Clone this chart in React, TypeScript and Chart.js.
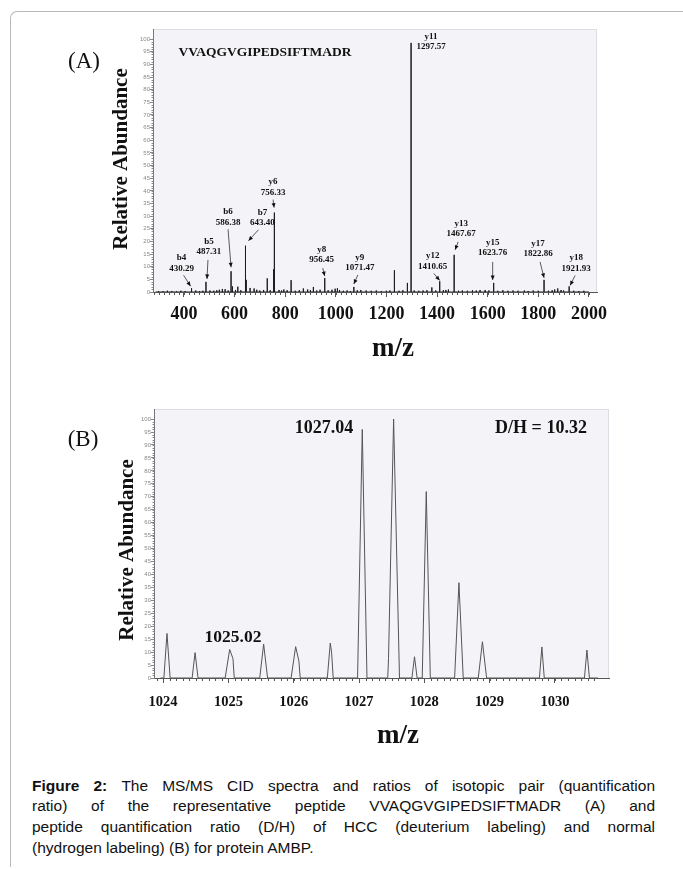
import { useEffect, useRef } from "react";
import { Chart, registerables } from "chart.js";

Chart.register(...registerables);

const SERIF = '"Liberation Serif", "Times New Roman", serif';
const SANS = '"Liberation Sans", Arial, sans-serif';

// ---------- Panel A data (MS/MS stick spectrum) ----------
const ION_NAMES = ["b4", "b5", "b6", "b7", "y6", "y8", "y9", "y11", "y12", "y13", "y15", "y17", "y18"];
const ION_LABELS = ["430.29", "487.31", "586.38", "643.40", "756.33", "956.45", "1071.47", "1297.57", "1410.65", "1467.67", "1623.76", "1822.86", "1921.93"];
const ION_MZ = [430.29, 487.31, 586.38, 643.4, 756.33, 956.45, 1071.47, 1297.57, 1410.65, 1467.67, 1623.76, 1822.86, 1921.93];
const ION_INT = [1.5, 4, 8.2, 18.3, 31.4, 5.5, 2, 98.5, 4.2, 14.7, 3.6, 4.8, 2.2];

const OTHER_MZ = [
  646.4, 754.8, 758.3, 729.4, 823.6, 592, 613, 661.5, 677.4, 563, 540, 552, 795, 808, 872, 889, 911.6,
  997.5, 1006.5, 1015, 1099, 1120, 1231.7, 1283, 1379.5, 1445, 1570, 1877, 1890,
  300, 318, 335, 352, 371, 388, 405, 447, 462, 475, 503, 518, 530, 575, 604, 625, 688, 700, 715, 741,
  776, 786, 840, 856, 900, 925, 938, 970, 985, 1030, 1045, 1058, 1085, 1140, 1160, 1180, 1200, 1214,
  1250, 1265, 1310, 1328, 1345, 1360, 1395, 1425, 1435, 1485, 1500, 1520, 1540, 1555, 1590, 1605, 1640,
  1660, 1680, 1700, 1720, 1745, 1760, 1780, 1800, 1840, 1855, 1865, 1900, 1940, 1960, 1980,
];
const OTHER_INT = [
  4.8, 9.0, 6.8, 5.4, 4.7, 2.2, 2.1, 1.6, 1.4, 1.1, 0.9, 1.2, 1.0, 0.7, 1.4, 1.0, 2.0,
  1.3, 1.5, 0.8, 0.8, 0.6, 8.6, 3.6, 1.8, 1.0, 0.8, 1.4, 0.8,
  0.4, 0.3, 0.5, 0.4, 0.3, 0.5, 0.4, 0.6, 0.4, 0.5, 0.6, 0.5, 0.7, 0.6, 0.8, 0.7, 0.9, 0.6, 0.8, 0.7,
  0.8, 0.6, 0.5, 0.7, 0.8, 0.6, 0.9, 0.7, 0.9, 0.5, 0.6, 0.4, 0.7, 0.5, 0.6, 0.4, 0.5, 0.6,
  0.5, 0.7, 0.6, 0.5, 0.6, 0.7, 0.6, 0.7, 0.8, 0.5, 0.6, 0.5, 0.7, 0.6, 0.8, 0.6, 0.5,
  0.7, 0.5, 0.6, 0.5, 0.6, 0.4, 0.6, 0.5, 0.5, 0.7, 1.0, 0.6, 0.5, 0.4, 0.5,
];
const X_TICKS_A = [400, 600, 800, 1000, 1200, 1400, 1600, 1800, 2000];
const Y_TICKS = [0, 5, 10, 15, 20, 25, 30, 35, 40, 45, 50, 55, 60, 65, 70, 75, 80, 85, 90, 95, 100];
const SEQUENCE = "VVAQGVGIPEDSIFTMADR";

// label layout (pixel offsets relative to the peak top): text line-2 centre, arrow start, arrow tip
const ION_LABEL_LAYOUT = [
  [-10, -20, -8, -13, -1, -2],
  [3, -30, 2, -22, 1, -3],
  [-3, -49, -3, -42, 0, -4],
  [17, -23, 13, -16, 3, -5],
  [-1, -20, -1, -13, 0, -5],
  [-3, -18, -2, -10, 0, -2],
  [6, -19, 4, -12, 0, -3],
  [20, 4, 0, 0, 0, 0],
  [-7, -15, -6, -8, 0, -1],
  [7, -21, 4, -13, 1, -5],
  [-1, -30, -1, -21, -1, -3],
  [-6, -26, -4, -18, 0, -2],
  [7, -18, 6, -11, 1, -1],
];

// ---------- Panel B data (isotope profile) ----------
const B_MZ = [1024.06, 1024.49, 1025.02, 1025.54, 1026.03, 1026.56, 1027.05, 1027.53, 1027.85, 1028.03, 1028.53, 1028.89, 1029.8, 1030.49];
const B_INT = [17.2, 9.8, 11, 13.1, 12.1, 13.5, 96, 100, 8.2, 72, 36.8, 14, 12, 10.8];
const B_HALFWIDTH = [0.048, 0.045, 0.07, 0.06, 0.07, 0.045, 0.072, 0.09, 0.04, 0.062, 0.066, 0.064, 0.037, 0.038];
const B_SHOULDER_DX = [0, 0, 0.05, 0, 0.05, 0.02, 0, -0.078, 0, 0, 0, 0, 0, 0];
const B_SHOULDER_INT = [0, 0, 7.5, 0, 6.5, 10, 0, 7.6, 0, 0, 0, 0, 0, 0];
const X_TICKS_B = [1024, 1025, 1026, 1027, 1028, 1029, 1030];
const B_LABEL_MAIN = "1027.04";
const B_LABEL_LIGHT = "1025.02";
const B_RATIO = "D/H = 10.32";

const CAPTION_LINES = [
  "The MS/MS CID spectra and ratios of isotopic pair (quantification",
  "ratio) of the representative peptide VVAQGVGIPEDSIFTMADR (A) and",
  "peptide quantification ratio (D/H) of HCC (deuterium labeling) and normal",
  "(hydrogen labeling) (B) for protein AMBP.",
];

const XA_MIN = 278, XA_MAX = 2032, XA_END = 2000;
const XB_MIN = 1023.861, XB_MAX = 1030.828, XB_END = 1030.66;

function stickData() {
  const mz = [...ION_MZ, ...OTHER_MZ];
  const it = [...ION_INT, ...OTHER_INT];
  const idx = mz.map((_, i) => i).sort((p, q) => mz[p] - mz[q]);
  const pts: { x: number; y: number }[] = [{ x: XA_MIN + 10, y: 0 }];
  idx.forEach((i) => {
    pts.push({ x: mz[i], y: 0 }, { x: mz[i], y: it[i] }, { x: mz[i], y: 0 });
  });
  pts.push({ x: XA_END, y: 0 });
  return pts;
}

function profileData() {
  const pts: { x: number; y: number }[] = [{ x: XB_MIN + 0.1, y: 0 }];
  B_MZ.forEach((c, i) => {
    const hw = B_HALFWIDTH[i];
    pts.push({ x: c - hw, y: 0 });
    if (B_SHOULDER_DX[i] < 0) pts.push({ x: c + B_SHOULDER_DX[i], y: B_SHOULDER_INT[i] });
    pts.push({ x: c, y: B_INT[i] });
    if (B_SHOULDER_DX[i] > 0) pts.push({ x: c + B_SHOULDER_DX[i], y: B_SHOULDER_INT[i] });
    pts.push({ x: c + hw, y: 0 });
  });
  pts.push({ x: XB_END, y: 0 });
  return pts;
}

function drawArrow(ctx: CanvasRenderingContext2D, x1: number, y1: number, x2: number, y2: number) {
  ctx.beginPath();
  ctx.moveTo(x1, y1);
  ctx.lineTo(x2, y2);
  ctx.stroke();
  const ang = Math.atan2(y2 - y1, x2 - x1);
  const L = 4.5, W = 2;
  ctx.beginPath();
  ctx.moveTo(x2, y2);
  ctx.lineTo(x2 - L * Math.cos(ang) + W * Math.sin(ang), y2 - L * Math.sin(ang) - W * Math.cos(ang));
  ctx.lineTo(x2 - L * Math.cos(ang) - W * Math.sin(ang), y2 - L * Math.sin(ang) + W * Math.cos(ang));
  ctx.closePath();
  ctx.fill();
}

function bgPlugin(id: string) {
  return {
    id,
    beforeDraw(chart: any) {
      const { ctx, chartArea: a } = chart;
      ctx.save();
      ctx.fillStyle = "#f4f3f7";
      ctx.fillRect(a.left, a.top, a.right - a.left, a.bottom - a.top);
      ctx.strokeStyle = "#dddce2";
      ctx.lineWidth = 1;
      ctx.strokeRect(a.left + 0.5, a.top + 0.5, a.right - a.left - 1, a.bottom - a.top);
      ctx.restore();
    },
  };
}

function minorTicks(chart: any, xStep: number, xFrom: number, xTo: number, yStep: number) {
  const { ctx, chartArea: a, scales } = chart;
  ctx.save();
  ctx.strokeStyle = "#555";
  ctx.lineWidth = 1;
  ctx.beginPath();
  for (let v = xFrom; v <= xTo + 1e-9; v += xStep) {
    const px = Math.round(scales.x.getPixelForValue(v)) + 0.5;
    ctx.moveTo(px, a.bottom);
    ctx.lineTo(px, a.bottom + 3);
  }
  ctx.stroke();
  ctx.strokeStyle = "#888";
  ctx.beginPath();
  for (let v = 0; v <= 100; v += yStep) {
    const py = Math.round(scales.y.getPixelForValue(v)) + 0.5;
    ctx.moveTo(a.left, py);
    ctx.lineTo(a.left - 1.5, py);
  }
  ctx.stroke();
  ctx.restore();
}

function rotatedText(ctx: CanvasRenderingContext2D, text: string, x: number, y: number) {
  ctx.save();
  ctx.translate(x, y);
  ctx.rotate(-Math.PI / 2);
  ctx.fillText(text, 0, 0);
  ctx.restore();
}

const panelAText = {
  id: "panelAText",
  afterDraw(chart: any) {
    const { ctx, scales } = chart;
    minorTicks(chart, 20, 280, 2000, 1);
    ctx.save();
    ctx.fillStyle = "#111";
    ctx.textAlign = "center";
    ctx.textBaseline = "middle";
    ctx.font = `23px ${SERIF}`;
    ctx.fillText("(A)", 84, 62);
    ctx.font = `bold 13.5px ${SERIF}`;
    ctx.fillText(SEQUENCE, 265, 53);
    ctx.font = `bold 21px ${SERIF}`;
    rotatedText(ctx, "Relative Abundance", 122, 159);
    ctx.font = `bold 27px ${SERIF}`;
    ctx.fillText("m/z", 393, 349);
    // ion annotations
    ctx.font = `bold 9px ${SERIF}`;
    ctx.strokeStyle = "#333";
    ctx.lineWidth = 0.8;
    ION_MZ.forEach((mz, i) => {
      const px = scales.x.getPixelForValue(mz);
      const py = scales.y.getPixelForValue(ION_INT[i]);
      const [tx, ty, ax, ay, bx, by] = ION_LABEL_LAYOUT[i];
      ctx.fillStyle = "#111";
      ctx.fillText(ION_NAMES[i], px + tx, py + ty - 10.5);
      ctx.fillText(ION_LABELS[i], px + tx, py + ty);
      if (ax !== 0 || ay !== 0 || bx !== 0 || by !== 0) {
        drawArrow(ctx, px + ax, py + ay, px + bx, py + by);
      }
    });
    ctx.restore();
  },
};

const panelBText = {
  id: "panelBText",
  afterDraw(chart: any) {
    const { ctx } = chart;
    minorTicks(chart, 0.1, 1023.9, 1030.6, 1);
    ctx.save();
    ctx.translate(0, -370);
    ctx.fillStyle = "#111";
    ctx.textAlign = "center";
    ctx.textBaseline = "middle";
    ctx.font = `23px ${SERIF}`;
    ctx.fillText("(B)", 83, 440);
    ctx.font = `bold 21px ${SERIF}`;
    rotatedText(ctx, "Relative Abundance", 128, 550);
    ctx.font = `bold 18px ${SERIF}`;
    ctx.fillText(B_LABEL_MAIN, 324, 428);
    ctx.fillText(B_RATIO, 541, 428);
    ctx.font = `bold 17.5px ${SERIF}`;
    ctx.fillText(B_LABEL_LIGHT, 233, 637);
    ctx.font = `bold 27px ${SERIF}`;
    ctx.fillText("m/z", 398, 736);
    ctx.restore();
  },
};

function yScale(max: number, width: number) {
  return {
    type: "linear" as const,
    min: 0,
    max,
    afterBuildTicks: (s: any) => {
      s.ticks = Y_TICKS.map((v) => ({ value: v }));
    },
    afterFit: (s: any) => {
      s.width = width;
    },
    grid: { drawOnChartArea: false, tickLength: 3, color: "#888" },
    border: { color: "#777", width: 1 },
    ticks: { font: { family: SANS, size: 6 }, color: "#888", padding: 0, autoSkip: false, callback: (v: any) => String(v) },
  };
}

function configA(): any {
  return {
    type: "line",
    data: {
      datasets: [
        { data: stickData(), borderColor: "#1c1c1c", borderWidth: 1, pointRadius: 0, tension: 0, fill: false },
      ],
    },
    options: {
      animation: false,
      responsive: false,
      maintainAspectRatio: false,
      layout: { padding: { left: 100, right: 86, top: 29, bottom: 0 } },
      plugins: { legend: { display: false }, tooltip: { enabled: false } },
      scales: {
        x: {
          type: "linear",
          min: XA_MIN,
          max: XA_MAX,
          afterBuildTicks: (s: any) => {
            s.ticks = X_TICKS_A.map((v) => ({ value: v }));
          },
          afterFit: (s: any) => {
            s.height = 78;
          },
          grid: { drawOnChartArea: false, tickLength: 5, color: "#555" },
          border: { color: "#555", width: 1 },
          ticks: { font: { family: SERIF, size: 18, weight: "bold" }, color: "#111", padding: 7, maxRotation: 0, autoSkip: false, callback: (v: any) => String(v) },
        },
        y: yScale(104, 53),
      },
    },
    plugins: [bgPlugin("bgA"), panelAText],
  };
}

function configB(): any {
  return {
    type: "line",
    data: {
      datasets: [
        { data: profileData(), borderColor: "#555", borderWidth: 1, pointRadius: 0, tension: 0, fill: false },
      ],
    },
    options: {
      animation: false,
      responsive: false,
      maintainAspectRatio: false,
      layout: { padding: { left: 100, right: 74, top: 39, bottom: 0 } },
      plugins: { legend: { display: false }, tooltip: { enabled: false } },
      scales: {
        x: {
          type: "linear",
          min: XB_MIN,
          max: XB_MAX,
          afterBuildTicks: (s: any) => {
            s.ticks = X_TICKS_B.map((v) => ({ value: v }));
          },
          afterFit: (s: any) => {
            s.height = 92;
          },
          grid: { drawOnChartArea: false, tickLength: 5, color: "#555" },
          border: { color: "#555", width: 1 },
          ticks: { font: { family: SERIF, size: 14.5, weight: "bold" }, color: "#111", padding: 11, maxRotation: 0, autoSkip: false, callback: (v: any) => String(v) },
        },
        y: yScale(103.9, 54),
      },
    },
    plugins: [bgPlugin("bgB"), panelBText],
  };
}

export default function App() {
  const refA = useRef<HTMLCanvasElement>(null);
  const refB = useRef<HTMLCanvasElement>(null);
  useEffect(() => {
    const a = new Chart(refA.current!, configA());
    const b = new Chart(refB.current!, configB());
    return () => {
      a.destroy();
      b.destroy();
    };
  }, []);
  return (
    <div style={{ position: "absolute", left: 0, top: 0, width: 683, height: 869, background: "#fff", overflow: "hidden" }}>
      <div
        style={{
          position: "absolute",
          left: 10,
          top: 11,
          width: 672,
          height: 855,
          borderTop: "1px solid #b8b8b8",
          borderLeft: "1px solid #b8b8b8",
          borderTopLeftRadius: 7,
        }}
      />
      <canvas ref={refA} width={683} height={370} style={{ position: "absolute", left: 0, top: 0, width: 683, height: 370 }} />
      <canvas ref={refB} width={683} height={400} style={{ position: "absolute", left: 0, top: 370, width: 683, height: 400 }} />
      <div
        style={{
          position: "absolute",
          left: 32,
          top: 775.6,
          width: 623,
          fontFamily: SANS,
          fontSize: 15.5,
          lineHeight: "20.7px",
          color: "#111",
        }}
      >
        {CAPTION_LINES.map((t, i) => (
          <div key={i} style={{ textAlign: "justify", textAlignLast: i < CAPTION_LINES.length - 1 ? "justify" : "left", whiteSpace: "nowrap" }}>
            {i === 0 ? <b>Figure 2: </b> : null}
            {t}
          </div>
        ))}
      </div>
    </div>
  );
}
